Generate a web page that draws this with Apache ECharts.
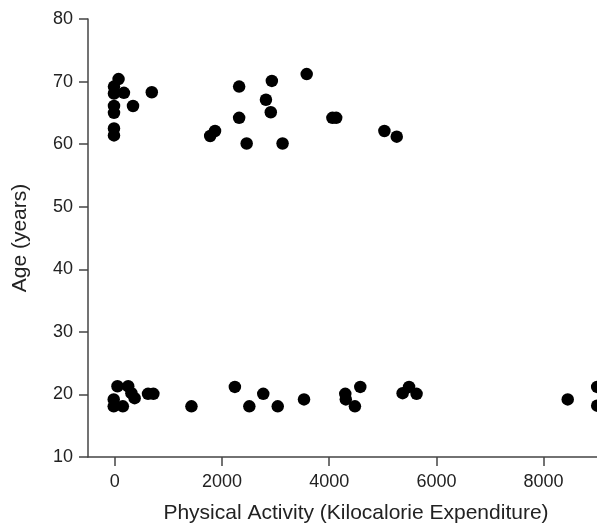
<!DOCTYPE html>
<html>
<head>
<meta charset="utf-8">
<script src="https://cdn.jsdelivr.net/npm/echarts@6/dist/echarts.min.js"></script>
<style>
  html, body { margin: 0; padding: 0; background: #fff; }
  #main { width: 597px; height: 526px; }
</style>
</head>
<body>
<div id="main"></div>
<script>
// older participants (around 60-70 years)
var oldActivity = [-15, -15, 70, 170, 690, 340, -15, -15, -15, -15,
  2320, 2930, 3580, 2820, 2910, 2320, 4060, 4130, 1870, 1780, 2460, 3130, 5030, 5260];
var oldAge = [69.2, 68.1, 70.4, 68.2, 68.3, 66.1, 66.1, 65.0, 62.5, 61.4,
  69.2, 70.1, 71.2, 67.1, 65.1, 64.2, 64.2, 64.2, 62.1, 61.3, 60.1, 60.1, 62.1, 61.2];

// younger participants (around 18-21 years)
var youngActivity = [50, 250, -20, -20, 150, 370, 310, 620, 720, 1430,
  2240, 2770, 2510, 3040, 3530, 4580, 4300, 4310, 4480, 5370, 5490, 5630, 8450, 9000, 9000];
var youngAge = [21.3, 21.3, 19.2, 18.1, 18.1, 19.4, 20.2, 20.1, 20.1, 18.1,
  21.2, 20.1, 18.1, 18.1, 19.2, 21.2, 20.1, 19.2, 18.1, 20.2, 21.2, 20.1, 19.2, 21.2, 18.2];

var xTicks = [0, 2000, 4000, 6000, 8000];

function zip(xs, ys) {
  var out = [];
  for (var i = 0; i < xs.length; i++) out.push([xs[i], ys[i]]);
  return out;
}

var chart = echarts.init(document.getElementById('main'));
var textColor = '#222';
var lineColor = '#444';

var option = {
  backgroundColor: '#fff',
  animation: false,
  // the original figure is cut off at its right edge, so the plot runs past it
  grid: { left: 88, top: 19, right: -27, bottom: 69, outerBoundsMode: 'none' },
  xAxis: {
    type: 'value',
    min: -500,
    max: 9500,
    name: 'Physical Activity (Kilocalorie Expenditure)',
    nameLocation: 'middle',
    nameGap: 46,
    nameTextStyle: { fontFamily: 'Liberation Sans', fontSize: 21, color: textColor },
    splitLine: { show: false },
    axisLine: { show: true, onZero: false, lineStyle: { color: lineColor, width: 1.5 } },
    axisTick: { show: true, length: 9, customValues: xTicks, lineStyle: { color: lineColor, width: 1.5 } },
    axisLabel: {
      customValues: xTicks, margin: 16, fontFamily: 'Liberation Sans', fontSize: 18, color: textColor,
      formatter: function (v) { return String(v); }
    }
  },
  yAxis: {
    type: 'value',
    min: 10,
    max: 80,
    interval: 10,
    name: 'Age (years)',
    nameLocation: 'middle',
    nameGap: 57,
    nameTextStyle: { fontFamily: 'Liberation Sans', fontSize: 21, color: textColor },
    splitLine: { show: false },
    axisLine: { show: true, onZero: false, lineStyle: { color: lineColor, width: 1.5 } },
    axisTick: { show: true, length: 9, lineStyle: { color: lineColor, width: 1.5 } },
    axisLabel: { margin: 15, fontFamily: 'Liberation Sans', fontSize: 18, color: textColor }
  },
  series: [
    {
      name: 'Older',
      type: 'scatter',
      symbolSize: 12.5,
      itemStyle: { color: '#000', opacity: 1 },
      data: zip(oldActivity, oldAge)
    },
    {
      name: 'Younger',
      type: 'scatter',
      symbolSize: 12.5,
      itemStyle: { color: '#000', opacity: 1 },
      data: zip(youngActivity, youngAge)
    }
  ]
};
chart.setOption(option);
</script>
</body>
</html>
